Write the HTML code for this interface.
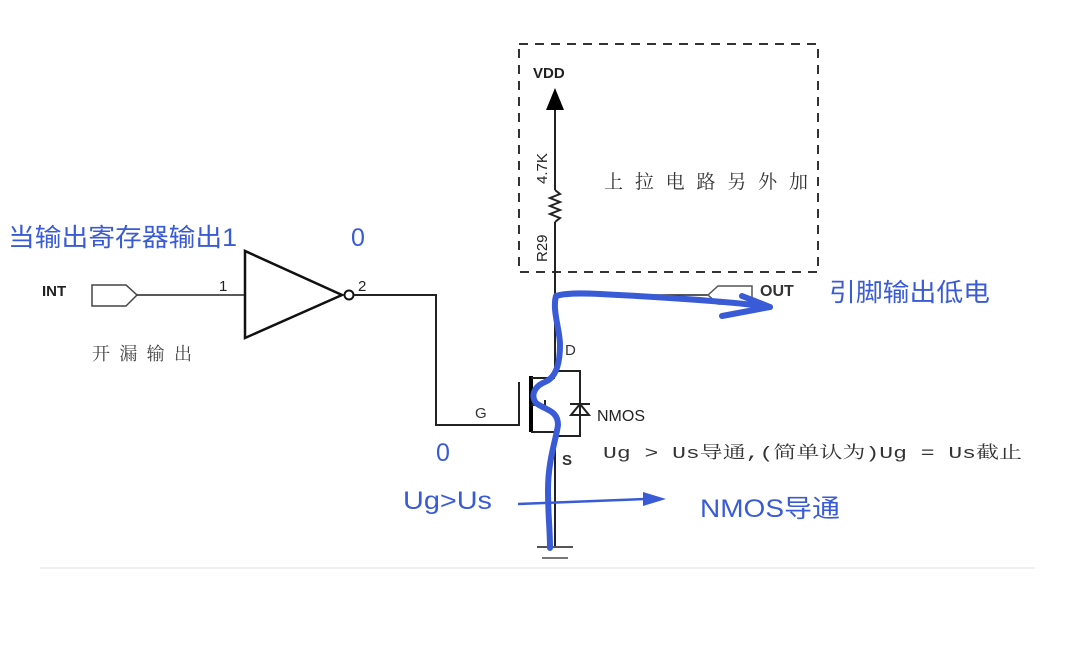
<!DOCTYPE html>
<html><head><meta charset="utf-8"><style>
html,body{margin:0;padding:0;background:#fff;}
body{width:1073px;height:659px;overflow:hidden;}
</style></head><body>
<svg width="1073" height="659" viewBox="0 0 1073 659" xmlns="http://www.w3.org/2000/svg">
<g font-family="Liberation Sans, Noto Sans CJK SC, sans-serif">
<!-- dashed box -->
<rect x="519" y="44" width="299" height="228" fill="none" stroke="#333" stroke-width="2" stroke-dasharray="9,7"/>
<text x="533" y="78" font-size="15" font-weight="bold" fill="#222">VDD</text>
<polygon points="555,88 546,110 564,110" fill="#000"/>
<line x1="555" y1="110" x2="555" y2="190" stroke="#222" stroke-width="2"/>
<polyline points="555,190 560,194 550,198 560,202 550,206 560,210 550,214 560,218 555,222" fill="none" stroke="#222" stroke-width="2"/>
<line x1="555" y1="222" x2="555" y2="371" stroke="#222" stroke-width="2"/>
<text transform="translate(547,184) rotate(-90)" font-size="15" fill="#222">4.7K</text>
<text transform="translate(547,262) rotate(-90)" font-size="15" fill="#222">R29</text>
<text x="604" y="188" font-size="19" fill="#333" font-family="Noto Serif CJK SC, serif" textLength="204" lengthAdjust="spacing">上拉电路另外加</text>
<!-- input -->
<text x="42" y="296" font-size="15" font-weight="bold" fill="#222">INT</text>
<polygon points="92,285 126,285 137,295 126,306 92,306" fill="none" stroke="#444" stroke-width="1.5"/>
<line x1="137" y1="295" x2="245" y2="295" stroke="#222" stroke-width="1.5"/>
<text x="219" y="291" font-size="15" fill="#222">1</text>
<polygon points="245,251 245,338 342,295" fill="none" stroke="#111" stroke-width="2.5"/>
<circle cx="349" cy="295" r="4.5" fill="#fff" stroke="#111" stroke-width="2"/>
<text x="358" y="291" font-size="15" fill="#222">2</text>
<polyline points="354,295 436,295 436,425 519,425 519,382" fill="none" stroke="#222" stroke-width="2"/>
<text x="92" y="360" font-size="18" fill="#444" font-family="Noto Serif CJK SC, serif" textLength="100" lengthAdjust="spacing">开漏输出</text>
<text x="475" y="418" font-size="15" fill="#333">G</text>
<!-- mosfet -->
<line x1="531" y1="376" x2="531" y2="432" stroke="#000" stroke-width="4"/>
<polyline points="555,371 580,371 580,436 555,436" fill="none" stroke="#222" stroke-width="2"/>
<line x1="531" y1="378" x2="555" y2="378" stroke="#222" stroke-width="2"/>
<line x1="531" y1="432" x2="555" y2="432" stroke="#222" stroke-width="2"/>
<polyline points="531,405 545,405 545,400" fill="none" stroke="#222" stroke-width="2"/>
<polygon points="571,415 589,415 580,404" fill="none" stroke="#222" stroke-width="2"/>
<line x1="570" y1="404" x2="590" y2="404" stroke="#222" stroke-width="2"/>
<line x1="555" y1="436" x2="555" y2="547" stroke="#222" stroke-width="2"/>
<line x1="537" y1="547" x2="573" y2="547" stroke="#555" stroke-width="2"/>
<line x1="542" y1="558" x2="568" y2="558" stroke="#777" stroke-width="2"/>
<text x="565" y="355" font-size="15" fill="#333">D</text>
<text x="597" y="421" font-size="16" fill="#222">NMOS</text>
<text x="562" y="465" font-size="15" font-weight="bold" fill="#333">S</text>
<text x="603" y="458" font-size="17" fill="#333" font-family="Liberation Mono, Noto Serif CJK SC, monospace" textLength="419" lengthAdjust="spacingAndGlyphs">Ug &gt; Us导通,(简单认为)Ug = Us截止</text>
<!-- out -->
<line x1="555" y1="295" x2="708" y2="295" stroke="#222" stroke-width="1.5"/>
<polygon points="708,295 718,286 752,286 752,304 718,304" fill="none" stroke="#555" stroke-width="1.5"/>
<text x="760" y="296" font-size="16" font-weight="bold" fill="#333">OUT</text>
<line x1="40" y1="568" x2="1035" y2="568" stroke="#e0e0e0" stroke-width="1"/>
<!-- blue annotations -->
<g fill="#3a5bd6" font-size="25">
<text x="8" y="246" textLength="229" lengthAdjust="spacingAndGlyphs">当输出寄存器输出1</text>
<text x="351" y="246">0</text>
<text x="436" y="461">0</text>
<text x="403" y="509" textLength="89" lengthAdjust="spacingAndGlyphs">Ug&gt;Us</text>
<text x="700" y="517" textLength="140" lengthAdjust="spacingAndGlyphs">NMOS导通</text>
<text x="829" y="301" textLength="161" lengthAdjust="spacingAndGlyphs">引脚输出低电</text>
</g>
<path d="M770,307 C720,300 640,296 600,294 C580,293 565,293 556,296 C552,310 560,330 560,345 C560,365 555,378 545,382 C535,386 530,395 536,403 C545,410 558,410 558,425 C556,440 548,460 548,490 C548,515 550,530 550,548" fill="none" stroke="#3a5bd6" stroke-width="6" stroke-linecap="round" stroke-linejoin="round"/>
<path d="M742,296 L770,307 L722,316" fill="none" stroke="#3a5bd6" stroke-width="6" stroke-linecap="round" stroke-linejoin="round"/>
<line x1="518" y1="504" x2="645" y2="499" stroke="#3a5bd6" stroke-width="2.5"/>
<polygon points="643,492 666,499 643,506" fill="#3a5bd6"/>
</g>
</svg>
</body></html>
